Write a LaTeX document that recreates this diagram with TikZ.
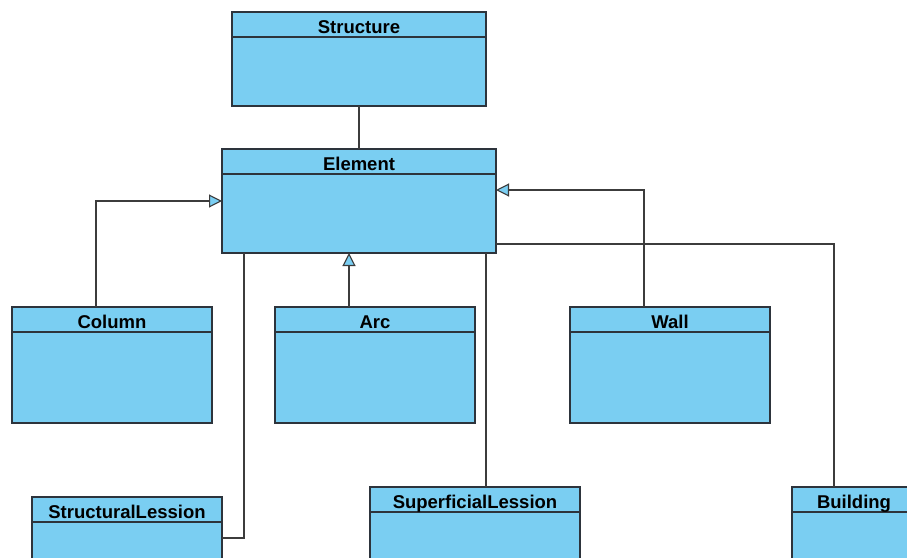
\documentclass[tikz,border=0pt]{standalone}
\usepackage{fontspec}
\setmainfont{Liberation Sans}
\usetikzlibrary{arrows.meta}

\definecolor{boxfill}{RGB}{122,206,242}
\definecolor{boxline}{RGB}{45,52,60}
\definecolor{wirecol}{RGB}{60,60,60}

\tikzset{
  classbox/.style={draw=boxline, fill=boxfill, line width=1.2pt, anchor=north west, inner sep=0pt, outer sep=0pt},
  classname/.style={anchor=base, inner sep=0pt, font=\fontsize{18.5}{20}\selectfont\bfseries},
  assoc/.style={draw=wirecol, line width=1.1pt},
  inherit/.style={assoc, -{Triangle[length=13pt, width=13pt, fill=boxfill]}}
}

\begin{document}
\begin{tikzpicture}[x=1pt,y=-1pt]
    \fill[white] (0,0) rectangle (907,557);
    \useasboundingbox (0,0) rectangle (907,557);
    \clip (0,0) rectangle (907,557);

    % class boxes: name/x/y/width/height/title
    \foreach \nm/\x/\y/\w/\h/\txt in {
        structure/232/12/254/94/Structure,
        element/222/149/274/104/Element,
        column/12/307/200/116/Column,
        arc/275/307/200/116/Arc,
        wall/570/307/200/116/Wall,
        structurallession/32/497/190/100/StructuralLession,
        superficiallession/370/487/210/100/SuperficialLession,
        building/792/487/124/100/Building} {
        \node[classbox, minimum width=\w pt, minimum height=\h pt] (\nm) at (\x,\y) {};
        \draw[boxline, line width=1.2pt] ([yshift=-25pt]\nm.north west) -- ([yshift=-25pt]\nm.north east);
        \node[classname] (\nm-title) at ([yshift=-21pt]\nm.north) {\txt};
    }

    % composition and generalisation links
    \draw[assoc] (structure.south) -- (element.north);
    \draw[inherit] ([xshift=-16pt]column.north) |- (element.west);
    \draw[inherit] ([xshift=-26pt]arc.north) -- ([xshift=-10pt]element.south);
    \draw[inherit] ([xshift=-26pt]wall.north) |- ([yshift=11pt]element.east);
    \draw[assoc] ([xshift=-115pt]element.south) |- ([yshift=-41pt]structurallession.north east);
    \draw[assoc] ([xshift=127pt]element.south) -- ([xshift=11pt]superficiallession.north);
    \draw[assoc] ([yshift=-43pt]element.east) -| ([xshift=-20pt]building.north);
\end{tikzpicture}
\end{document}
